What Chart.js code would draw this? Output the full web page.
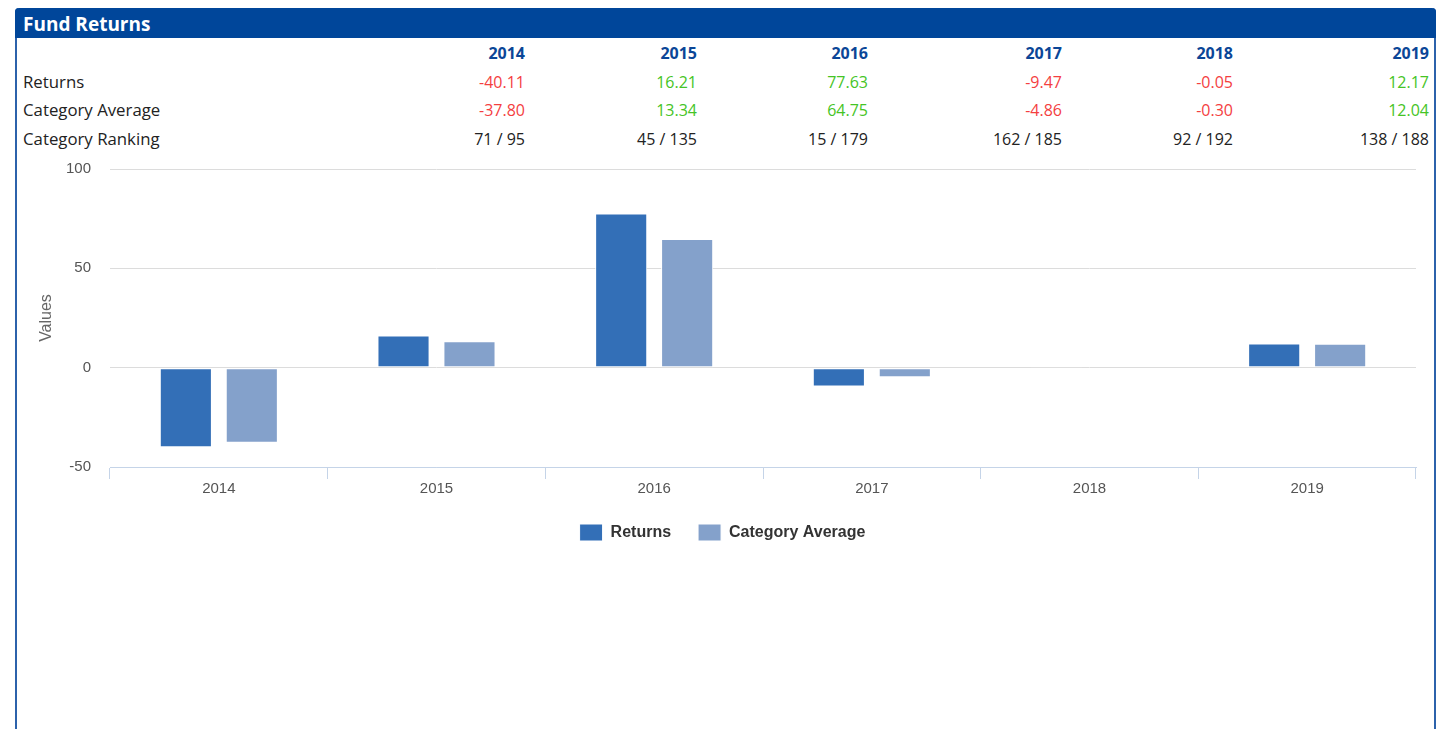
<!DOCTYPE html>
<html>
<head>
<meta charset="utf-8">
<script src="https://cdn.jsdelivr.net/npm/chart.js@4"></script>
<style>
  body { margin: 0; background: #fff; font-family: "Open Sans", sans-serif; }
  #panel { position: absolute; left: 15px; top: 8px; width: 1417px; height: 800px;
           border: 2px solid #2c62ab; border-top: none; border-radius: 4px 4px 0 0; }
  #head { position: absolute; left: -2px; top: 0; width: 1421px; height: 30px; background: #00469a;
          border-radius: 4px 4px 0 0; color: #fff; font-weight: bold; font-size: 19px;
          line-height: 32px; box-sizing: border-box; padding-left: 8px; }
  #tabla { position: absolute; left: 23px; top: 39px; border-collapse: collapse; font-size: 16px; color: #222; }
  #tabla td { padding: 0; height: 28.7px; line-height: 28.7px; white-space: nowrap; text-align: right; }
  #tabla td:first-child { text-align: left; font-size: 16.8px; }
  #tabla th { padding: 0; height: 28.7px; text-align: right; color: #0b4697; font-weight: bold; }
  .neg { color: #f4403f; }
  .pos { color: #45c425; }
  #caja { position: absolute; left: 17px; top: 141px; width: 1405px; height: 410px; }
</style>
</head>
<body>

<div id="panel"><div id="head">Fund Returns</div></div>
<table id="tabla">
  <colgroup>
    <col style="width:330px"><col style="width:172px"><col style="width:172px"><col style="width:171px">
    <col style="width:194px"><col style="width:171px"><col style="width:196px">
  </colgroup>
  <thead><tr id="filaAnios"><th></th></tr></thead>
  <tbody id="cuerpo"></tbody>
</table>
<div id="caja"><canvas id="graficoRetornos"></canvas></div>

<script>
// ======================================
// DATOS
// ======================================

const anios = ["2014", "2015", "2016", "2017", "2018", "2019"];
const retornos = [-40.11, 16.21, 77.63, -9.47, -0.05, 12.17];
const promedioCategoria = [-37.80, 13.34, 64.75, -4.86, -0.30, 12.04];
const ranking = ["71 / 95", "45 / 135", "15 / 179", "162 / 185", "92 / 192", "138 / 188"];
const ticksY = [100, 50, 0, -50];


// ======================================
// TABLA
// ======================================

const filaAnios = document.getElementById("filaAnios");
anios.forEach(a => {
    const th = document.createElement("th");
    th.textContent = a;
    filaAnios.appendChild(th);
});

function agregarFila(nombre, valores, conColor) {
    const tr = document.createElement("tr");
    const td0 = document.createElement("td");
    td0.textContent = nombre;
    tr.appendChild(td0);
    valores.forEach(v => {
        const td = document.createElement("td");
        if (conColor) {
            td.textContent = v.toFixed(2);
            td.className = v < 0 ? "neg" : "pos";
        } else {
            td.textContent = v;
        }
        tr.appendChild(td);
    });
    document.getElementById("cuerpo").appendChild(tr);
}

agregarFila("Returns", retornos, true);
agregarFila("Category Average", promedioCategoria, true);
agregarFila("Category Ranking", ranking, false);


// ======================================
// GRAFICO
// ======================================

new Chart(document.getElementById("graficoRetornos"), {

type: "bar",

data: {
labels: anios,
datasets: [{
label: "Returns",
data: retornos,
backgroundColor: "#336fb7",
borderColor: "#ffffff",
borderWidth: 1,
borderSkipped: false
}, {
label: "Category Average",
data: promedioCategoria,
backgroundColor: "#84a1cb",
borderColor: "#ffffff",
borderWidth: 1,
borderSkipped: false
}]
},

options: {
responsive: true,
maintainAspectRatio: false,
animation: false,
categoryPercentage: 0.606,
barPercentage: 0.79,
layout: { padding: { top: 10, right: 6, left: 12, bottom: 0 } },
plugins: {
tooltip: { enabled: false },
legend: {
position: "bottom",
labels: {
boxWidth: 23,
boxHeight: 17,
padding: 27,
color: "#333",
font: { family: "Liberation Sans, Arial", size: 16, weight: "bold" }
}
}
},
scales: {
x: {
afterFit: s => { s.height = 30; },
grid: {
offset: true,
drawOnChartArea: false,
drawTicks: true,
tickLength: 12,
color: "#c5d4e8"
},
border: { color: "#c5d4e8", width: 1 },
ticks: {
padding: 1,
color: "#555",
font: { family: "Liberation Sans, Arial", size: 15 }
}
},
y: {
min: -50,
max: 100,
afterFit: s => { s.width = 81; },
afterBuildTicks: s => { s.ticks = ticksY.map(v => ({ value: v })); },
grid: { color: "#dcdcdc", drawTicks: false },
border: { display: false },
title: {
display: true,
text: "Values",
color: "#666",
padding: { top: 8, bottom: 0 },
font: { family: "Liberation Sans, Arial", size: 16 }
},
ticks: {
padding: 19,
color: "#555",
font: { family: "Liberation Sans, Arial", size: 15 }
}
}
}
}

});
</script>
</body>
</html>
